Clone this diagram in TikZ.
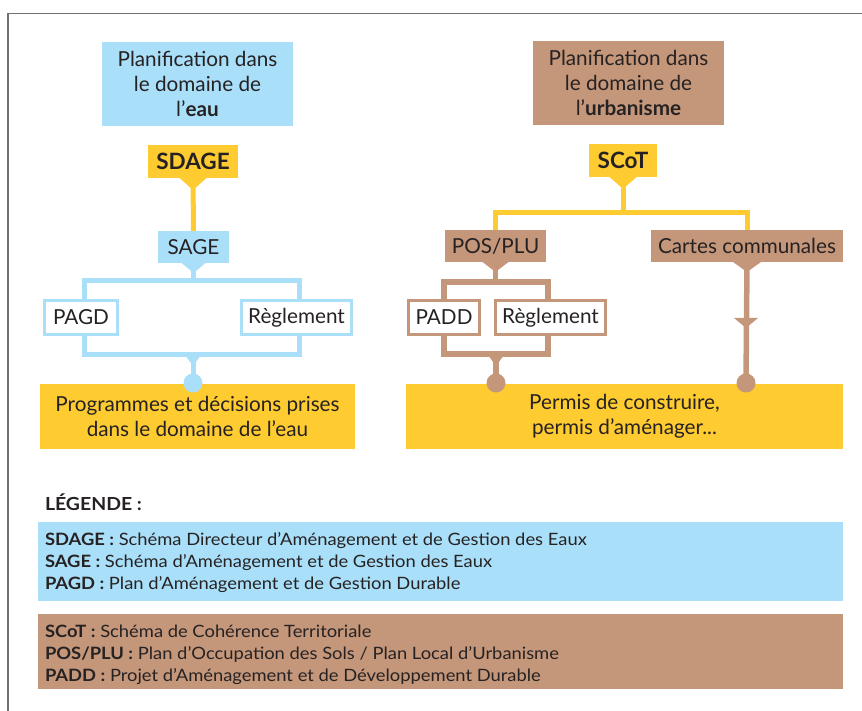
\documentclass[tikz,border=0pt]{standalone}
\usepackage{fontspec}
\setmainfont{Lato}
\newfontfamily\legfont[FakeStretch=1.08]{Lato}
\usetikzlibrary{backgrounds}
\definecolor{bleu}{HTML}{A9DFF8}
\definecolor{jaune}{HTML}{FECB30}
\definecolor{brun}{HTML}{C4967A}
\definecolor{encre}{HTML}{262223}
\definecolor{cadre}{HTML}{707070}
\newcommand{\pointeur}[4]{\fill[#2] ([xshift=-#3pt]#1.south) -- ([xshift=#3pt]#1.south) -- ([yshift=-#4pt]#1.south) -- cycle;}
\begin{document}
\begin{tikzpicture}[x=1pt,y=1pt,
  every node/.style={inner sep=0pt, outer sep=0pt, text=encre, align=center, font=\fontsize{20.7}{25}\selectfont},
  bleubox/.style={fill=bleu}, jaunebox/.style={fill=jaune}, brunbox/.style={fill=brun},
  cadreb/.style={fill=white, draw=bleu, line width=3pt},
  cadrer/.style={fill=white, draw=brun, line width=3pt},
  lienb/.style={draw=bleu, line width=5pt},
  lieny/.style={draw=jaune, line width=5pt},
  lienr/.style={draw=brun, line width=5.5pt},
  pastille/.style={circle, minimum size=19pt},
  sigle/.style={font=\fontsize{22.5}{25}\selectfont\bfseries},
  leg/.style={anchor=base west, align=left, font=\legfont\fontsize{17}{20}\selectfont}]
\useasboundingbox (0,0) rectangle (862,-711);
\draw[cadre, line width=1.3pt] (8,-711) -- (8,-13.5) -- (862,-13.5);

% titles
\node[bleubox, minimum width=191pt, minimum height=84pt] (eau) at (197.5,-84) {Planification dans\\le domaine de\\l’\textbf{eau}};
\node[brunbox, minimum width=191pt, minimum height=84pt] (urb) at (628.5,-83) {Planification dans\\le domaine de\\l’\textbf{urbanisme}};

% water side
\node[jaunebox, sigle, minimum width=90pt, minimum height=33pt] (sdage) at (193,-161.5) {SDAGE};
\node[bleubox, minimum width=71pt, minimum height=32pt] (sage) at (193.5,-247) {SAGE};
\node[cadreb, minimum width=73pt, minimum height=34pt] (pagd) at (81,-317.5) {PAGD};
\node[cadreb, minimum width=110pt, minimum height=34pt] (reglL) at (296.5,-317.5) {Règlement};
\node[jaunebox, minimum width=315pt, minimum height=65pt] (prog) at (197.5,-416.5) {Programmes et décisions prises\\dans le domaine de l’eau};
\node[pastille, fill=bleu] (dotL) at (193,-383) {};

% urban side
\node[jaunebox, sigle, minimum width=68pt, minimum height=33pt] (scot) at (623,-160.5) {SCoT};
\node[brunbox, minimum width=101pt, minimum height=32pt] (pos) at (495.5,-246) {POS/PLU};
\node[brunbox, minimum width=192pt, minimum height=32pt] (cartes) at (747,-246) {Cartes communales};
\node[cadrer, minimum width=71pt, minimum height=34pt] (padd) at (444,-317.5) {PADD};
\node[cadrer, minimum width=110pt, minimum height=34pt] (reglR) at (550.5,-317.5) {Règlement};
\node[jaunebox, minimum width=437pt, minimum height=65pt] (permis) at (624.5,-416.5) {Permis de construire,\\permis d’aménager...};
\node[pastille, fill=brun] (dotM) at (496,-383) {};
\node[pastille, fill=brun] (dotR) at (746,-383) {};

% bracket corners
\coordinate (bTL) at (84,-281);
\coordinate (bBR) at (299,-354);
\coordinate (rTL) at (444,-282);
\coordinate (rBR) at (548,-354);
\coordinate (yH) at (623,-213);
\coordinate (arrC) at (746,-318);

% pointers
\pointeur{sdage}{jaune}{13.5}{12}
\pointeur{sage}{bleu}{12}{10}
\pointeur{scot}{jaune}{13.5}{12}
\pointeur{pos}{brun}{13}{10}
\pointeur{cartes}{brun}{14}{10}
\fill[bleu] (185,-355) -- (201,-355) -- (193,-366) -- cycle;
\fill[brun] (488,-355) -- (504,-355) -- (496,-366) -- cycle;
\fill[brun] ([xshift=-12pt]arrC) -- ([xshift=12pt]arrC) -- ([yshift=-10pt]arrC) -- cycle;

\begin{pgfonlayer}{background}
  % water
  \draw[lieny] (sdage.south) -- (sage.north);
  \draw[lienb] (sage.south) -- (sage.south |- bTL);
  \draw[lienb] (bTL) rectangle (bBR);
  \draw[lienb] (dotL |- bBR) -- (dotL.center);
  % urban
  \draw[lieny] (scot.south) -- (yH);
  \draw[lieny] (pos.north) |- (yH) -| (cartes.north);
  \draw[lienr] (pos.south) -- (pos.south |- rTL);
  \draw[lienr] (rTL) rectangle (rBR);
  \draw[lienr] (dotM |- rBR) -- (dotM.center);
  \draw[lienr] (cartes.south) -- (dotR.center);
\end{pgfonlayer}

% legend
\node[leg, font=\legfont\fontsize{18}{20}\selectfont\bfseries] (legtitre) at (45,-510) {LÉGENDE :};
\node[bleubox, minimum width=805pt, minimum height=79pt] (legB) at (440.5,-561.5) {};
\node[brunbox, minimum width=805pt, minimum height=75pt] (legR) at (440.5,-651.5) {};
\node[leg] (l1) at (45,-545) {\textbf{SDAGE :} Schéma Directeur d’Aménagement et de Gestion des Eaux};
\node[leg] (l2) at (45,-567) {\textbf{SAGE :} Schéma d’Aménagement et de Gestion des Eaux};
\node[leg] (l3) at (45,-589) {\textbf{PAGD :} Plan d’Aménagement et de Gestion Durable};
\node[leg] (l4) at (45,-637) {\textbf{SCoT :} Schéma de Cohérence Territoriale};
\node[leg] (l5) at (45,-659) {\textbf{POS/PLU :} Plan d’Occupation des Sols / Plan Local d’Urbanisme};
\node[leg] (l6) at (45,-681) {\textbf{PADD :} Projet d’Aménagement et de Développement Durable};
\end{tikzpicture}
\end{document}
